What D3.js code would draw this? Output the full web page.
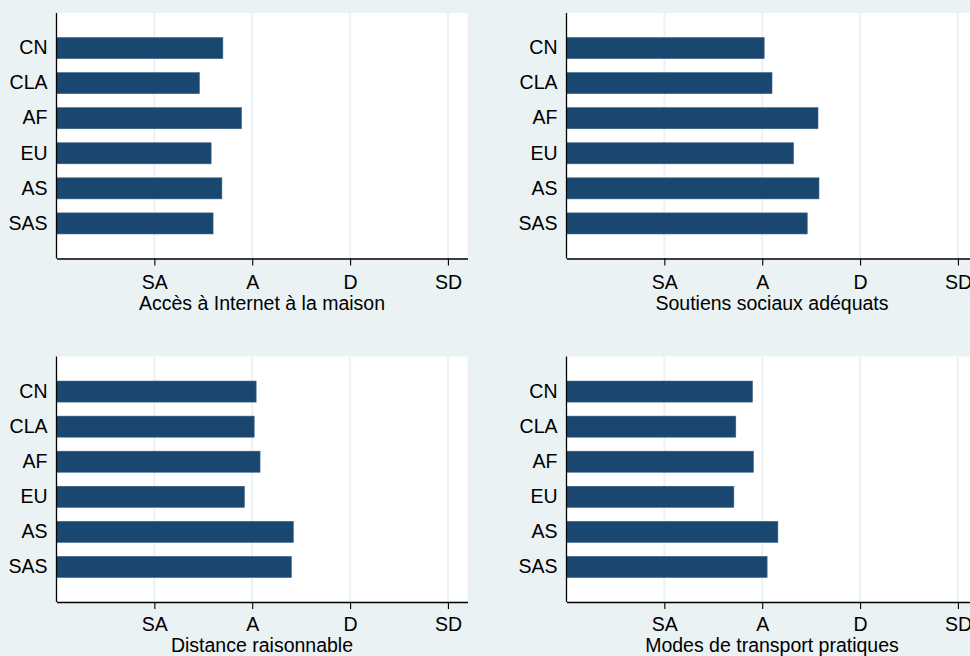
<!DOCTYPE html>
<html>
<head>
<meta charset="utf-8">
<script src="https://cdn.jsdelivr.net/npm/d3@7"></script>
<style>
  html, body { margin: 0; padding: 0; background: #eaf2f3; overflow: hidden; }
  text { font-family: "Liberation Sans", Arial, sans-serif; fill: #000; }
</style>
</head>
<body>
<div id="chart"></div>
<script>
// Regions on the category axis (top to bottom)
const regions = ["CN", "CLA", "AF", "EU", "AS", "SAS"];

// Mean answer per region for each question (1 = SA ... 4 = SD)
const internetMaison = [1.70, 1.46, 1.89, 1.58, 1.69, 1.60];
const soutiensSociaux = [2.02, 2.10, 2.57, 2.32, 2.58, 2.46];
const distanceRaisonnable = [2.04, 2.02, 2.08, 1.92, 2.42, 2.40];
const transportPratique = [1.90, 1.73, 1.91, 1.71, 2.16, 2.05];

// Scale tick labels
const tickValues = [1, 2, 3, 4];
const tickLabels = ["SA", "A", "D", "SD"];

const panelTitles = [
    "Accès à Internet à la maison",
    "Soutiens sociaux adéquats",
    "Distance raisonnable",
    "Modes de transport pratiques"
];
const panelValues = [internetMaison, soutiensSociaux, distanceRaisonnable, transportPratique];

const W = 970, H = 656;
const fontSize = "19.5px";

const svg = d3.select("#chart").append("svg")
    .attr("width", W)
    .attr("height", H);

svg.append("rect").attr("width", W).attr("height", H).attr("fill", "#eaf2f3");

// plot region geometry for each panel
const plotW = 411, plotH = 245.5;
const origins = [
    {x: 56.5, y: 13},
    {x: 566.5, y: 13},
    {x: 56.5, y: 356.5},
    {x: 566.5, y: 356.5}
];

const xScale = d3.scaleLinear().domain([0, 4.2]).range([0, plotW]);
const yScale = d3.scaleBand().domain(regions).range([0, plotH])
    .paddingInner(0.4).paddingOuter(0.7);

panelValues.forEach((vals, p) => {
    const o = origins[p];
    const g = svg.append("g").attr("transform", `translate(${o.x},${o.y})`);

    // white plot region
    g.append("rect")
        .attr("width", plotW)
        .attr("height", plotH)
        .attr("fill", "#ffffff");

    // vertical grid lines
    g.selectAll(".grid")
        .data(tickValues)
        .enter().append("line")
        .attr("x1", d => xScale(d)).attr("x2", d => xScale(d))
        .attr("y1", 0).attr("y2", plotH)
        .attr("stroke", "#eaf2f3")
        .attr("stroke-width", 2);

    // bars
    g.selectAll(".bar")
        .data(vals)
        .enter().append("rect")
        .attr("x", 0)
        .attr("y", (d, i) => yScale(regions[i]))
        .attr("width", d => xScale(d))
        .attr("height", yScale.bandwidth())
        .attr("fill", "#1a476f")
        .attr("stroke", "#3a5f82")
        .attr("stroke-width", 0.6);

    // category axis (no tick marks)
    const yAxis = g.append("g")
        .call(d3.axisLeft(yScale).tickSize(0).tickPadding(9));
    yAxis.select(".domain").attr("stroke", "#000").attr("stroke-width", 1.3)
        .attr("d", `M0,0V${plotH}`);
    yAxis.selectAll("text")
        .style("font-size", fontSize)
        .style("font-family", "Liberation Sans, Arial, sans-serif")
        .attr("fill", "#000");

    // value axis
    const xAxis = g.append("g")
        .attr("transform", `translate(0,${plotH})`)
        .call(d3.axisBottom(xScale)
            .tickValues(tickValues)
            .tickFormat((d, i) => tickLabels[i])
            .tickSize(7)
            .tickSizeOuter(0)
            .tickPadding(p < 2 ? 9.5 : 8.5));
    xAxis.select(".domain").attr("stroke", "#000").attr("stroke-width", 1.3);
    xAxis.selectAll(".tick line").attr("stroke", "#000").attr("stroke-width", 1.1);
    xAxis.selectAll("text")
        .style("font-size", fontSize)
        .style("font-family", "Liberation Sans, Arial, sans-serif")
        .attr("fill", "#000");

    // panel title under the axis
    g.append("text")
        .attr("x", plotW / 2)
        .attr("y", plotH + (p < 2 ? 51 : 49.5))
        .attr("text-anchor", "middle")
        .style("font-size", fontSize)
        .text(panelTitles[p]);
});
</script>
</body>
</html>
